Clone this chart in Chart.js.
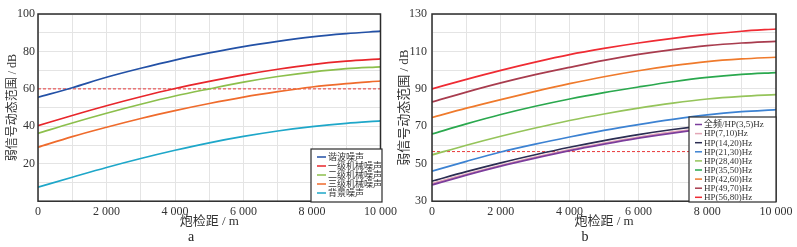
<!DOCTYPE html>
<html><head><meta charset="utf-8">
<script src="https://cdn.jsdelivr.net/npm/chart.js@4/dist/chart.umd.min.js"></script>
<style>
html,body{margin:0;padding:0;background:#fff;}
#wrap{position:relative;width:797px;height:247px;overflow:hidden;}
#a{position:absolute;left:0;top:0;}
#b{position:absolute;left:394px;top:0;}
</style></head><body>
<div id="wrap"><canvas id="a" width="400" height="247"></canvas><canvas id="b" width="403" height="247"></canvas></div>
<script>
// ---- data ----
const offsets = [0,1000,2000,3000,4000,5000,6000,7000,8000,9000,10000];
const xTickLabels = [0,2000,4000,6000,8000,10000];
const yTicksA = [20,40,60,80,100];
const yTicksB = [30,50,70,90,110,130];

// chart a
const labelsA = ['谐波噪声','一级机械噪声','二级机械噪声','三级机械噪声','背景噪声'];
const harmonicA = [55.5,60.6,66.2,71.0,75.4,79.2,82.6,85.4,87.8,89.5,90.8];
const mech1A    = [40.3,45.8,51.0,55.8,60.2,64.0,67.5,70.5,73.0,74.8,76.0];
const mech2A    = [36.2,41.8,47.0,51.8,56.2,60.0,63.6,66.6,69.0,70.8,71.8];
const mech3A    = [28.8,34.5,39.5,44.2,48.4,52.2,55.6,58.5,61.0,62.8,64.2];
const backgrA   = [7.5,12.8,18.0,22.8,27.2,31.2,34.6,37.5,39.8,41.6,42.9];
const thresholdA = 60;

// chart b
const labelsB = ['全频/HP(3,5)Hz','HP(7,10)Hz','HP(14,20)Hz','HP(21,30)Hz','HP(28,40)Hz','HP(35,50)Hz','HP(42,60)Hz','HP(49,70)Hz','HP(56,80)Hz'];
const hp3_5   = [38.7,43.9,48.7,53.0,57.0,60.5,63.7,66.4,68.6,70.2,71.3];
const hp7_10  = [39.4,44.5,49.2,53.6,57.6,61.1,64.3,67.0,69.1,70.7,71.8];
const hp14_20 = [40.7,45.8,50.5,54.8,58.8,62.4,65.6,68.3,70.5,72.2,73.4];
const hp21_30 = [46.0,51.3,56.3,60.5,64.3,67.8,70.9,73.7,76.1,77.8,78.9];
const hp28_40 = [54.7,59.9,64.7,69.1,73.1,76.6,79.7,82.4,84.6,86.0,86.9];
const hp35_50 = [65.9,71.3,76.3,80.7,84.6,88.0,91.0,93.8,96.1,97.7,98.7];
const hp42_60 = [74.7,79.7,84.3,88.7,92.8,96.5,99.7,102.4,104.6,106.0,106.9];
const hp49_70 = [83.0,88.3,93.2,97.6,101.5,105.2,108.4,111.0,113.1,114.5,115.4];
const hp56_80 = [90.0,95.1,99.9,104.3,108.3,111.6,114.5,117.0,119.1,120.8,122.0];
const thresholdB = 56.5;

// ---- styles ----
const colorsA = ['#2351a6','#e8262b','#8cbf4c','#ef6b2c','#1ea7c9'];
const colorsB = ['#7b3d9c','#e3a6b6','#2b2d52','#3c82d2','#95c45a','#2aa84e','#ef7a2c','#a83c4e','#ef2b33'];
const SERIF = "'Liberation Serif','Noto Sans CJK SC'";
const TXT = '#333';

const pts = arr => offsets.map((x,i)=>({x, y: arr[i]}));
const fmt = v => v >= 1000 ? Math.floor(v/1000) + ' ' + String(v%1000).padStart(3,'0') : String(v);

const framePlugin = {
  id: 'frame',
  afterDatasetsDraw(chart) {
    const {ctx, chartArea: a} = chart;
    ctx.save();
    ctx.strokeStyle = '#2b2b2b';
    ctx.lineWidth = 1.5;
    ctx.strokeRect(a.left, a.top, a.right - a.left, a.bottom - a.top);
    ctx.restore();
  }
};

const boxLegend = {
  id: 'boxLegend',
  afterDraw(chart, args, o) {
    const {ctx} = chart;
    const sets = chart.data.datasets.filter(d => !d.noLegend);
    ctx.save();
    ctx.fillStyle = '#fff';
    ctx.fillRect(o.left, o.top, o.right - o.left, o.bottom - o.top);
    ctx.strokeStyle = '#2b2b2b';
    ctx.lineWidth = 1.2;
    ctx.strokeRect(o.left, o.top, o.right - o.left, o.bottom - o.top);
    ctx.font = o.fontSize + 'px ' + SERIF;
    ctx.textBaseline = 'middle';
    ctx.textAlign = 'left';
    sets.forEach((d, i) => {
      const y = o.first + i * o.step;
      ctx.strokeStyle = d.borderColor;
      ctx.lineWidth = 1.5;
      ctx.beginPath(); ctx.moveTo(o.sx1, y); ctx.lineTo(o.sx2, y); ctx.stroke();
      ctx.fillStyle = TXT;
      ctx.fillText(d.label, o.tx, y + 0.5);
    });
    ctx.restore();
  }
};

function makeChart(id, labels, series, colors, threshold, yMin, yMax, yTickList, cfg) {
  const datasets = series.map((s, i) => ({
    label: labels[i], data: pts(s), borderColor: colors[i], backgroundColor: colors[i],
    borderWidth: 1.7, pointRadius: 0, cubicInterpolationMode: 'monotone', fill: false
  }));
  datasets.push({
    label: 'threshold', noLegend: true,
    data: [{x: 0, y: threshold}, {x: 10000, y: threshold}],
    borderColor: '#e8383a', borderWidth: 1, borderDash: [3, 2], pointRadius: 0, fill: false
  });
  return new Chart(document.getElementById(id), {
    type: 'line',
    data: { datasets },
    options: {
      responsive: false, animation: false, devicePixelRatio: 1,
      layout: { padding: { left: 0, right: cfg.padRight, top: 14, bottom: 0 } },
      plugins: {
        legend: { display: false }, tooltip: { enabled: false },
        title: { display: true, position: 'bottom', text: cfg.sub, color: '#222',
                 font: { family: SERIF, size: 14, weight: 'normal', lineHeight: 1.2 },
                 padding: { top: 0, bottom: 1 } },
        boxLegend: cfg.legend
      },
      scales: {
        x: {
          type: 'linear', min: 0, max: 10000,
          afterFit: s => { s.height = 28; },
          grid: { color: '#e4e4e4', lineWidth: 1, drawTicks: false },
          border: { display: false },
          ticks: { stepSize: 1000, autoSkip: false, maxRotation: 0, padding: 3, color: TXT,
                   font: { family: SERIF, size: 12 },
                   callback: v => xTickLabels.includes(v) ? fmt(v) : '' },
          title: { display: true, text: '炮检距 / m', color: TXT, padding: { top: 0, bottom: 0 },
                   font: { family: SERIF, size: 13, lineHeight: 1.2 } }
        },
        y: {
          min: yMin, max: yMax,
          afterFit: s => { s.width = cfg.yWidth; },
          grid: { color: '#e4e4e4', lineWidth: 1, drawTicks: false },
          border: { display: false },
          ticks: { stepSize: 10, autoSkip: false, padding: cfg.tickPad, color: TXT,
                   font: { family: SERIF, size: 12 },
                   callback: v => yTickList.includes(v) ? String(v) : '' },
          title: { display: true, text: '弱信号动态范围 / dB', color: TXT,
                   padding: { top: cfg.titlePad, bottom: 0 },
                   font: { family: SERIF, size: cfg.titleSize, lineHeight: 1.2 } }
        }
      }
    },
    plugins: [framePlugin, boxLegend]
  });
}

makeChart('a', labelsA, [harmonicA, mech1A, mech2A, mech3A, backgrA], colorsA, thresholdA, 0, 100, yTicksA, {
  padRight: 18, yWidth: 38, tickPad: 3, titlePad: 6, titleSize: 12, sub: 'a',
  legend: { left: 311, top: 149, right: 382, bottom: 202, first: 157, step: 9, sx1: 317, sx2: 326, tx: 328, fontSize: 9 }
});
makeChart('b', labelsB, [hp3_5, hp7_10, hp14_20, hp21_30, hp28_40, hp35_50, hp42_60, hp49_70, hp56_80], colorsB, thresholdB, 30, 130, yTicksB, {
  padRight: 21, yWidth: 38, tickPad: 5, titlePad: 3, titleSize: 13, sub: 'b',
  legend: { left: 295, top: 117, right: 382, bottom: 202, first: 124.5, step: 9.1, sx1: 301, sx2: 308, tx: 310, fontSize: 9 }
});
</script>
</body></html>
